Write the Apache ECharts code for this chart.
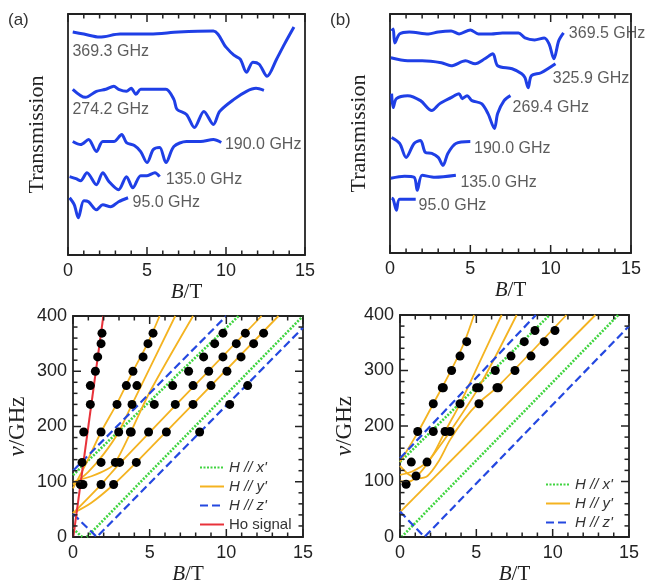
<!DOCTYPE html>
<html>
<head>
<meta charset="utf-8">
<script src="https://cdn.jsdelivr.net/npm/echarts@6/dist/echarts.min.js"></script>
<style>
  html, body { margin: 0; background: #fff; }
  #chart { width: 649px; height: 586px; }
</style>
</head>
<body>
<div id="chart"></div>
<script>
// ---- (a) transmission traces: [B (T), transmission (arb. units, offset)]
const freqA = ['369.3 GHz', '274.2 GHz', '190.0 GHz', '135.0 GHz', '95.0 GHz'];
const labelAtA = [[0.25, 20.3], [0.25, 14.5], [9.9, 11.0], [6.15, 7.5], [4.05, 5.2]];
const trA369 = [[0.3,22.2],[1.0,22.0],[2.0,21.7],[3.3,22.0],[5.2,22.0],[7.0,22.2],[9.2,22.3],[10.0,20.7],[10.5,19.9],[10.9,19.5],[11.3,18.2],[11.7,19.2],[12.1,19.0],[12.6,17.8],[13.2,19.5],[13.7,21.0],[14.3,22.7]];
const trA274 = [[0.3,16.5],[1.1,15.7],[1.8,16.3],[2.4,16.5],[2.9,16.8],[3.2,16.5],[3.7,16.3],[4.0,16.6],[4.3,16.0],[4.6,16.5],[5.5,16.5],[6.2,16.5],[6.7,15.5],[6.9,14.5],[7.5,14.0],[8.0,12.7],[8.6,14.3],[9.2,13.0],[9.6,14.3],[10.5,15.5],[11.3,16.3],[11.9,16.6],[12.4,16.4]];
const trA190 = [[0.3,11.3],[0.8,11.0],[1.3,11.5],[1.8,10.3],[2.2,11.3],[2.9,11.3],[3.4,12.0],[3.7,11.2],[4.2,10.9],[4.6,10.3],[5.0,9.2],[5.4,10.5],[5.8,10.7],[6.2,9.2],[6.7,10.8],[7.5,11.3],[8.4,11.3],[9.2,11.5],[9.7,11.2]];
const trA135 = [[0.1,7.8],[0.5,7.6],[0.8,7.4],[1.2,8.2],[1.8,7.0],[2.2,8.2],[2.6,7.3],[3.2,6.5],[3.7,7.8],[4.1,6.7],[4.6,7.9],[5.0,7.9],[5.5,8.2],[5.8,7.8]];
const trA95 = [[0.1,5.7],[0.4,5.0],[0.65,3.7],[1.0,5.4],[1.3,5.3],[1.8,4.5],[2.2,5.0],[2.7,4.8],[3.2,5.3],[3.8,5.7]];

// ---- (b) transmission traces
const freqB = ['369.5 GHz', '325.9 GHz', '269.4 GHz', '190.0 GHz', '135.0 GHz', '95.0 GHz'];
const labelAtB = [[11.1, 22.0], [10.1, 17.5], [7.6, 14.6], [5.2, 10.5], [4.35, 7.1], [1.75, 4.8]];
const trB369 = [[0.1,22.3],[0.2,22.5],[0.3,21.1],[0.6,22.0],[1.2,22.2],[2.4,22.0],[3.0,22.2],[3.8,22.3],[4.3,22.0],[5.0,22.4],[5.5,22.0],[6.3,22.0],[7.0,22.1],[8.0,22.1],[8.4,21.6],[9.0,21.4],[9.6,21.6],[9.9,21.0],[10.2,19.5],[10.5,21.3],[10.8,22.1]];
const trB326 = [[0.05,19.6],[1.1,19.3],[2.0,19.3],[3.2,19.1],[3.8,18.8],[4.7,19.3],[5.3,19.0],[5.9,19.5],[6.4,20.0],[6.7,18.8],[7.6,18.5],[8.2,18.0],[8.4,17.6],[8.6,16.6],[8.8,17.8],[9.4,18.1],[10.3,19.0]];
const trB269 = [[0.1,16.0],[0.2,14.6],[0.4,15.5],[1.1,15.8],[1.9,15.3],[2.6,14.3],[3.1,15.0],[3.8,15.6],[4.3,16.0],[4.5,15.5],[4.8,15.8],[5.1,15.3],[5.7,15.0],[6.1,14.0],[6.5,12.5],[6.7,14.0],[7.1,15.3],[7.5,15.8]];
const trB190 = [[0.1,11.6],[0.6,11.0],[1.0,9.6],[1.5,11.0],[1.9,11.3],[2.2,10.1],[2.6,10.0],[3.0,9.6],[3.3,8.8],[3.6,10.0],[4.1,11.0],[5.0,11.2]];
const trB135 = [[0.05,7.5],[0.9,7.7],[1.5,7.6],[1.7,6.3],[2.0,7.8],[2.8,7.6],[4.1,7.8]];
const trB95 = [[0.1,5.5],[0.2,5.4],[0.4,4.3],[0.6,5.4],[1.6,5.4]];

// ---- (c) frequency-field diagram: [B (T), nu (GHz)]
const dotsC = [[1.89,369],[5.22,369],[9.78,369],[11.24,369],[12.43,369],
  [1.83,350],[4.89,350],[9.24,350],[10.65,350],[11.78,350],
  [1.61,326],[4.57,326],[8.52,326],[9.78,326],[10.96,326],
  [1.46,300],[3.91,300],[7.54,300],[8.85,300],[10.04,300],
  [1.13,274],[3.48,274],[4.17,274],[6.5,274],[7.83,274],[9.0,274],[11.39,274],
  [1.13,240],[2.87,240],[3.85,240],[5.30,240],[6.67,240],[7.83,240],[10.22,240],
  [0.70,190],[1.83,190],[2.98,190],[3.74,190],[3.80,190],[4.93,190],[6.09,190],[8.26,190],
  [0.59,135],[1.83,135],[2.76,135],[3.04,135],[4.13,135],
  [0.48,95],[0.65,95],[1.83,95],[2.65,95]];
const hoC = [[0.02,0],[1.98,400]];
const xC = [[[0,112],[10.8,400]], [[0,15],[0.6,0]], [[0.9,0],[15,400]]];
const zC = [[[0,120],[10.0,400]], [[0,42],[1.55,0],[15,379]]];
const yC = [
  [[0,43],[1.2,62],[2.65,95],[4.13,135],[13.4,400]],
  [[0,43],[1.83,95],[3.04,133],[12.3,400]],
  [[0,88],[0.8,130],[1.83,190],[2.87,242],[3.91,300],[4.89,352],[5.65,400]],
  [[0,95],[1.0,118],[2.0,150],[2.98,190],[3.85,240],[6.67,400]],
  [[0,100],[1.2,110],[2.2,122],[2.76,135],[3.77,190],[5.0,262],[7.83,400]]
];

// ---- (d) frequency-field diagram
const dotsD = [[8.84,372],[10.15,372],
  [4.37,352],[8.14,352],[9.45,352],
  [3.93,326],[7.27,326],[8.58,326],
  [3.38,300],[6.24,300],[7.53,300],
  [2.77,269],[2.84,269],[5.02,269],[5.17,269],[6.35,269],[6.44,269],
  [2.18,240],[3.93,240],[5.17,240],
  [1.16,190],[2.18,190],[2.95,190],[3.28,190],
  [0.74,135],[1.77,135],
  [1.05,110],
  [0.40,95]];
const xD = [[[0,135],[9.8,400]], [[0.1,0],[14.3,400]]];
const zD = [[[0,142],[8.9,400]], [[0,46],[1.6,0],[15,380]]];
const yD = [
  [[0,135],[1.16,188],[2.18,240],[3.38,302],[4.2,350],[4.85,400]],
  [[0,100],[0.6,100],[1.3,115],[2.2,150],[2.95,190],[3.93,240],[5.3,320],[6.66,400]],
  [[0,128],[0.6,112],[1.2,106],[1.8,110],[2.5,135],[3.28,175],[4.2,212],[5.17,242],[6.44,272],[10.9,400]],
  [[0,112],[0.8,118],[1.77,135],[2.5,160],[3.28,190],[5.17,270],[7.64,400]],
  [[0,45],[12.8,400]]
];

// tick positions: field every 1 T (major every 5), frequency every 20 GHz (major every 100)
const fieldTicks = [0,1,2,3,4,5,6,7,8,9,10,11,12,13,14,15];
const freqTicks = [0,20,40,60,80,100,120,140,160,180,200,220,240,260,280,300,320,340,360,380,400];

const NX = "H // x'", NY = "H // y'", NZ = "H // z'", NHO = 'Ho signal';
const INK = '#222';
const SANS = 'Liberation Sans';
const SERIF = 'Liberation Serif';

const chart = echarts.init(document.getElementById('chart'));

const grids = [
  { left: 68, right: 344, top: 14, bottom: 331 },
  { left: 390, right: 18, top: 14, bottom: 333 },
  { left: 73, right: 346, top: 316, bottom: 45 },
  { left: 400, right: 20, top: 315, bottom: 45 }
];

const nameFont = size => ({ fontFamily: SERIF, fontSize: size, color: INK,
  rich: { i: { fontFamily: SERIF, fontSize: size, fontStyle: 'italic', color: INK } } });
const boxLine = { show: true, onZero: false, lineStyle: { color: INK, width: 1.8 } };

const xAxis = [], yAxis = [];
[false, false, true, true].forEach((freqAxis, gi) => {
  xAxis.push({
    type: 'value', gridIndex: gi, position: 'bottom', min: 0, max: 15, interval: 5,
    axisLine: boxLine, axisTick: { show: false }, splitLine: { show: false },
    axisLabel: { fontSize: 18, color: INK, margin: 7, fontFamily: SANS },
    name: '{i|B}/T', nameLocation: 'middle', nameGap: 27, nameTextStyle: nameFont(21)
  }, {
    type: 'value', gridIndex: gi, position: 'top', min: 0, max: 15, interval: 5,
    axisLine: boxLine, axisTick: { show: false }, splitLine: { show: false },
    axisLabel: { show: false }
  });
  yAxis.push(Object.assign({
    type: 'value', gridIndex: gi, position: 'left', min: 0,
    axisLine: boxLine, axisTick: { show: false }, splitLine: { show: false },
    nameLocation: 'middle', nameRotate: 90
  }, freqAxis ? {
    max: 400, interval: 100,
    axisLabel: { fontSize: 18, color: INK, margin: 6, fontFamily: SANS },
    name: '{i|ν}/GHz', nameGap: 44, nameTextStyle: nameFont(23)
  } : {
    max: 24, axisLabel: { show: false },
    name: 'Transmission', nameGap: 20, nameTextStyle: nameFont(22)
  }), {
    type: 'value', gridIndex: gi, position: 'right', min: 0, max: freqAxis ? 400 : 24,
    interval: freqAxis ? 100 : 6,
    axisLine: boxLine, axisTick: { show: false }, splitLine: { show: false },
    axisLabel: { show: false }
  });
});
const mainX = gi => gi * 2, mainY = gi => gi * 2;

const series = [];
function line(name, data, gi, style, smooth) {
  series.push({
    name, type: 'line', data, xAxisIndex: mainX(gi), yAxisIndex: mainY(gi),
    symbol: 'none', smooth: smooth || false, lineStyle: style,
    itemStyle: { color: style.color },
    silent: true, z: 2
  });
}
function dots(data, gi) {
  series.push({
    name: 'data' + gi, type: 'scatter', data, xAxisIndex: mainX(gi), yAxisIndex: mainY(gi),
    symbolSize: 9, itemStyle: { color: '#000', opacity: 1 }, silent: true, z: 4
  });
}
function labels(names, at, gi) {
  series.push({
    name: 'labels' + gi, type: 'scatter', xAxisIndex: mainX(gi), yAxisIndex: mainY(gi),
    data: names.map((n, i) => ({ name: n, value: at[i] })),
    symbolSize: 1, itemStyle: { color: 'rgba(0,0,0,0)' }, silent: true,
    label: { show: true, position: 'right', distance: 0, formatter: '{b}',
      fontFamily: SANS, fontSize: 16, color: '#333' }
  });
}
// inward ticks on both opposite edges, placed through the axis scale
function ticks(values, dim, majorEvery, gi) {
  series.push({
    name: 'ticks' + dim + gi, type: 'custom', xAxisIndex: mainX(gi), yAxisIndex: mainY(gi),
    data: values.map(v => dim === 'x' ? [v, 0] : [0, v]),
    silent: true, clip: false, z: 10,
    renderItem: (params, api) => {
      const cs = params.coordSys;
      const v = api.value(dim === 'x' ? 0 : 1);
      const len = v % majorEvery === 0 ? 8 : 4.5;
      const style = { stroke: INK, lineWidth: 1.5 };
      if (dim === 'x') {
        const x = api.coord([v, 0])[0];
        const b = cs.y + cs.height;
        return { type: 'group', children: [
          { type: 'line', shape: { x1: x, y1: b, x2: x, y2: b - len }, style },
          { type: 'line', shape: { x1: x, y1: cs.y, x2: x, y2: cs.y + len }, style }
        ] };
      }
      const y = api.coord([0, v])[1];
      const r = cs.x + cs.width;
      return { type: 'group', children: [
        { type: 'line', shape: { x1: cs.x, y1: y, x2: cs.x + len, y2: y }, style },
        { type: 'line', shape: { x1: r, y1: y, x2: r - len, y2: y }, style }
      ] };
    }
  });
}

const traceStyle = { color: '#1f3fe6', width: 3 };
[trA369, trA274, trA190, trA135, trA95].forEach((d, i) => line('tA' + i, d, 0, traceStyle, 0.3));
labels(freqA, labelAtA, 0);
[trB369, trB326, trB269, trB190, trB135, trB95].forEach((d, i) => line('tB' + i, d, 1, traceStyle, 0.3));
labels(freqB, labelAtB, 1);

const greenStyle = { color: '#3fd43f', width: 2.6, type: [2, 1.5] };
const orangeStyle = { color: '#f4b320', width: 1.8 };
const blueStyle = { color: '#2448e0', width: 2.2, type: [8, 4] };
const redStyle = { color: '#e8323a', width: 2 };

xC.forEach(d => line(NX, d, 2, greenStyle));
yC.forEach(d => line(NY, d, 2, orangeStyle, 0.3));
zC.forEach(d => line(NZ, d, 2, blueStyle));
line(NHO, hoC, 2, redStyle);
dots(dotsC, 2);

xD.forEach(d => line(NX, d, 3, greenStyle));
yD.forEach(d => line(NY, d, 3, orangeStyle, 0.3));
zD.forEach(d => line(NZ, d, 3, blueStyle));
dots(dotsD, 3);

[0, 1, 2, 3].forEach(gi => ticks(fieldTicks, 'x', 5, gi));
[2, 3].forEach(gi => ticks(freqTicks, 'y', 100, gi));

const legendBase = {
  orient: 'vertical', itemWidth: 24, itemHeight: 14, itemGap: 4,
  selectedMode: false,
  itemStyle: { opacity: 0 },
  textStyle: { fontFamily: SANS, fontSize: 15, color: '#333',
    rich: { it: { fontFamily: SANS, fontSize: 15, fontStyle: 'italic', color: '#333' } } },
  formatter: n => n === NHO ? n : '{it|' + n + '}'
};

chart.setOption({
  animation: false,
  backgroundColor: '#fff',
  grid: grids,
  xAxis, yAxis, series,
  legend: [
    Object.assign({}, legendBase, { data: [NX, NY, NZ, NHO], left: 194, top: 455 }),
    Object.assign({}, legendBase, { data: [NX, NY, NZ], left: 540, top: 472 })
  ],
  graphic: [
    { type: 'text', left: 8, top: 12, style: { text: '(a)', fontFamily: SANS, fontSize: 17, fill: '#333' } },
    { type: 'text', left: 330, top: 12, style: { text: '(b)', fontFamily: SANS, fontSize: 17, fill: '#333' } }
  ]
});
</script>
</body>
</html>
